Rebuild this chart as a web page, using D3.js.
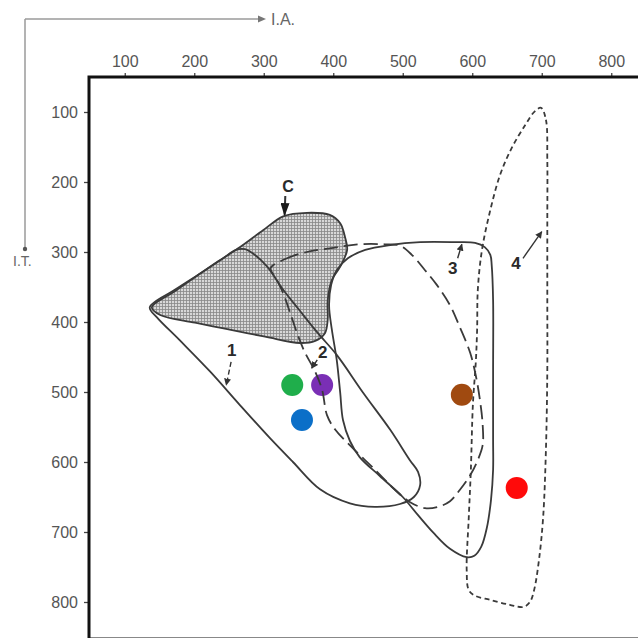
<!DOCTYPE html>
<html>
<head>
<meta charset="utf-8">
<script src="https://cdn.jsdelivr.net/npm/d3@7"></script>
<style>
  html, body { margin: 0; padding: 0; background: #fff; }
  svg { display: block; }
</style>
</head>
<body>
<svg id="chart" width="638" height="638"></svg>
<script>
// ---------- DATA (I.A. = x, I.T. = y) ----------
const xTicks = [100, 200, 300, 400, 500, 600, 700, 800];
const yTicks = [100, 200, 300, 400, 500, 600, 700, 800];

const region1 = [[136,379],[172,354],[208,331],[240,310],[260,297],[273,296],[287,304],[305,321],[328,354],[352,384],[378,416],[405,447],[443,501],[482,554],[510,597],[522,614],[525,633],[516,650],[496,660],[460,664],[424,659],[381,639],[342,600],[309,566],[266,519],[223,471],[179,426],[146,393]];

const regionC = [[139,379],[172,356],[204,334],[235,313],[266,293],[299,269],[328,249],[362,244],[395,247],[410,259],[417,279],[420,297],[410,321],[398,340],[392,369],[392,397],[388,416],[374,427],[352,430],[302,421],[251,411],[201,401],[151,390]];

const region2 = [[310,323],[331,310],[362,300],[400,294],[438,289],[474,289],[496,291],[513,304],[532,326],[549,347],[568,376],[582,407],[597,444],[605,476],[611,511],[615,547],[615,576],[608,597],[597,619],[582,640],[568,656],[551,664],[532,666],[510,657],[489,640],[460,611],[427,579],[403,554],[391,533],[384,497],[374,471],[359,443],[348,416],[338,387],[328,359],[319,340]];

const region3 = [[592,736],[568,724],[544,701],[522,676],[500,650],[467,620],[438,593],[424,570],[414,540],[410,501],[405,454],[398,411],[394,376],[397,347],[405,326],[421,309],[446,297],[482,290],[525,286],[575,286],[604,287],[618,293],[626,304],[628,319],[630,369],[630,469],[630,569],[630,611],[627,654],[621,694],[613,721],[603,734]];

const region4 = [[699,94],[706,111],[708,169],[708,254],[708,369],[708,469],[706,583],[702,679],[696,740],[689,783],[683,800],[674,807],[654,804],[626,797],[604,791],[595,783],[592,754],[595,679],[598,611],[601,516],[605,459],[607,411],[608,354],[614,297],[626,240],[640,190],[657,151],[676,119],[690,99]];

const dotX = [341, 384, 355, 585, 664];
const dotY = [490, 490, 540, 504, 637];
const dotColors = ["#1fae4b", "#7a2fb5", "#0b6fc8", "#a04a10", "#ff0a0a"];

const labelText = ["1", "2", "3", "4", "C"];
const labelX = [254, 385, 572, 663, 335];
const labelY = [440, 443, 323, 316, 207];

// annotation arrows
const arrowFromX = [253, 377, 579, 673, 331];
const arrowFromY = [457, 454, 309, 309, 220];
const arrowToX   = [246, 369, 585, 700, 330];
const arrowToY   = [490, 466, 289, 271, 247];
const arrowDashed = [true, false, false, false, false];

// ---------- DRAW ----------
const svg = d3.select("#chart");
const x = d3.scaleLinear().domain([50, 850]).range([90, 646]);
const y = d3.scaleLinear().domain([50, 850]).range([77, 637]);
const FONT = "Liberation Sans, Arial, sans-serif";

const defs = svg.append("defs");
const pat = defs.append("pattern").attr("id", "hatch")
  .attr("patternUnits", "userSpaceOnUse").attr("width", 3).attr("height", 3);
pat.append("rect").attr("width", 3).attr("height", 3).attr("fill", "#d8d8d8");
pat.append("path").attr("d", "M0,0.5H3M0.5,0V3").attr("stroke", "#888").attr("stroke-width", 0.8);

defs.append("marker").attr("id", "ah").attr("viewBox", "0 0 10 10")
  .attr("refX", 9).attr("refY", 5).attr("markerWidth", 7).attr("markerHeight", 7)
  .attr("markerUnits", "userSpaceOnUse").attr("orient", "auto")
  .append("path").attr("d", "M0,0L10,5L0,10z").attr("fill", "#333");
defs.append("marker").attr("id", "ahBig").attr("viewBox", "0 0 10 10")
  .attr("refX", 9).attr("refY", 5).attr("markerWidth", 13).attr("markerHeight", 9)
  .attr("markerUnits", "userSpaceOnUse").attr("orient", "auto").attr("preserveAspectRatio", "none")
  .append("path").attr("d", "M0,0L10,5L0,10z").attr("fill", "#1a1a1a");

// orientation indicator (I.A. / I.T.)
const ind = svg.append("g").attr("stroke", "#9a9a9a").attr("stroke-width", 1.5);
ind.append("line").attr("x1", 25).attr("y1", 19).attr("x2", 259).attr("y2", 19);
ind.append("line").attr("x1", 25).attr("y1", 19).attr("x2", 25).attr("y2", 247);
svg.append("path").attr("d", "M258,15.5L266,19L258,22.5Z").attr("fill", "#777");
svg.append("circle").attr("cx", 25).attr("cy", 249).attr("r", 2.2).attr("fill", "#555");
svg.append("text").attr("x", 271).attr("y", 25).text("I.A.")
  .attr("font-family", FONT).attr("font-size", 16).attr("fill", "#666");
svg.append("text").attr("x", 13).attr("y", 266).text("I.T.")
  .attr("font-family", FONT).attr("font-size", 14).attr("fill", "#666");

// axes
const axTop = svg.append("g").attr("transform", `translate(0,${y(50)})`)
  .call(d3.axisTop(x).tickValues(xTicks).tickSize(4).tickPadding(6));
const axLeft = svg.append("g").attr("transform", `translate(${x(50) - 1},0)`)
  .call(d3.axisLeft(y).tickValues(yTicks).tickSize(5).tickPadding(6));
[axTop, axLeft].forEach(g => {
  g.select(".domain").remove();
  g.selectAll(".tick line").attr("stroke", "#444").attr("stroke-width", 1.3);
  g.selectAll(".tick text").attr("font-family", FONT)
    .attr("font-size", 16).attr("fill", "#555");
});

// frame
svg.append("rect").attr("x", x(50) - 1).attr("y", y(50)).attr("width", 700).attr("height", y(850) - y(50) + 2)
  .attr("fill", "none").attr("stroke", "#111").attr("stroke-width", 3);

const closed = d3.line().x(d => x(d[0])).y(d => y(d[1])).curve(d3.curveCatmullRomClosed.alpha(0.5));

// shaded region C
svg.append("path").attr("d", closed(regionC)).attr("fill", "url(#hatch)")
  .attr("stroke", "#3a3a3a").attr("stroke-width", 1.8);

// sample dots
svg.append("g").selectAll("circle").data(dotX).join("circle")
  .attr("cx", d => x(d)).attr("cy", (d, i) => y(dotY[i])).attr("r", 11)
  .attr("fill", (d, i) => dotColors[i]);

// regions
svg.append("path").attr("d", closed(region1)).attr("fill", "none")
  .attr("stroke", "#3a3a3a").attr("stroke-width", 1.8);
svg.append("path").attr("d", closed(region3)).attr("fill", "none")
  .attr("stroke", "#3a3a3a").attr("stroke-width", 1.8);
svg.append("path").attr("d", closed(region2)).attr("fill", "none")
  .attr("stroke", "#3a3a3a").attr("stroke-width", 1.8).attr("stroke-dasharray", "14,6");
svg.append("path").attr("d", closed(region4)).attr("fill", "none")
  .attr("stroke", "#3a3a3a").attr("stroke-width", 1.8).attr("stroke-dasharray", "5,3.5");

// annotation arrows
arrowFromX.forEach((fx, i) => {
  svg.append("line").attr("x1", x(fx)).attr("y1", y(arrowFromY[i]))
    .attr("x2", x(arrowToX[i])).attr("y2", y(arrowToY[i]))
    .attr("stroke", "#333").attr("stroke-width", i === 4 ? 2 : 1.4)
    .attr("stroke-dasharray", arrowDashed[i] ? "5,3" : null)
    .attr("marker-end", i === 4 ? "url(#ahBig)" : "url(#ah)");
});

// region labels
svg.append("g").selectAll("text").data(labelText).join("text")
  .attr("x", (d, i) => x(labelX[i])).attr("y", (d, i) => y(labelY[i]))
  .attr("text-anchor", "middle").attr("dominant-baseline", "central")
  .attr("font-family", FONT).attr("font-weight", "bold")
  .attr("font-size", (d, i) => i === 4 ? 16 : 17).attr("fill", "#2a2a2a")
  .text(d => d);
</script>
</body>
</html>
